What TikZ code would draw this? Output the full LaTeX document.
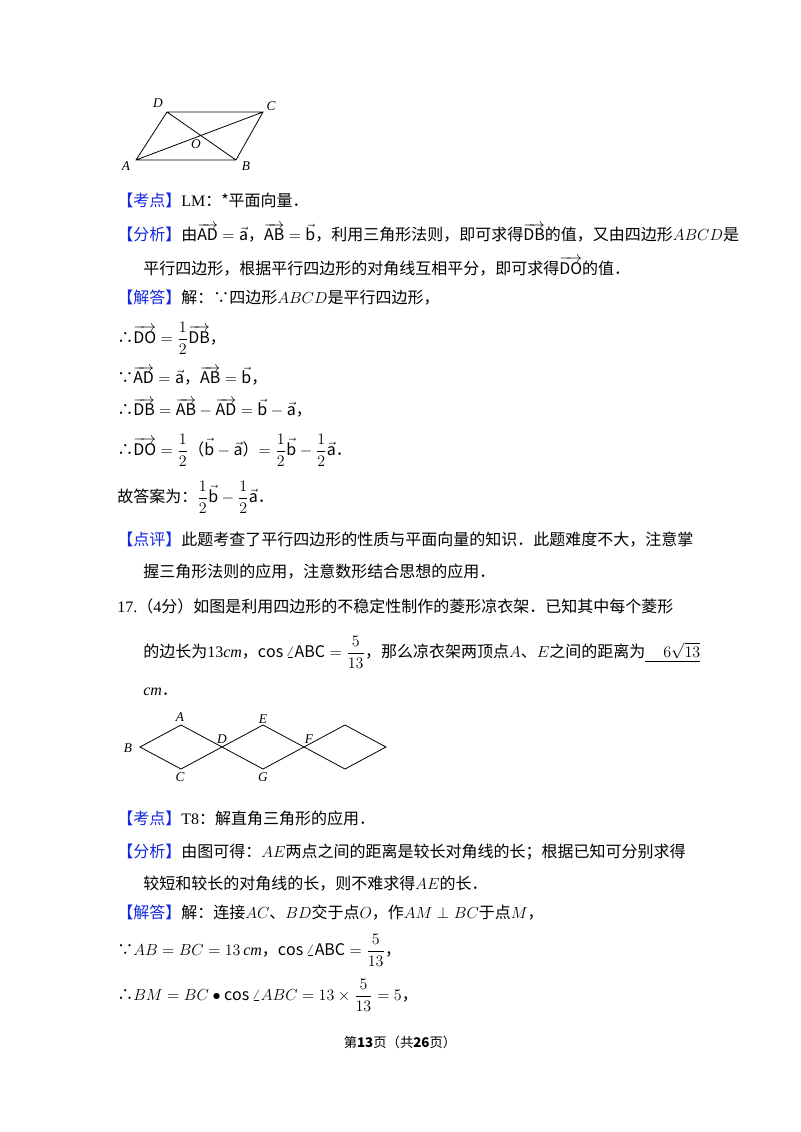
\documentclass[tikz,border=0pt]{standalone}
\usepackage{fontspec}
\setmainfont{Noto Sans CJK SC}
\newfontfamily\lat{Liberation Serif}
\usepackage{amsmath}
\definecolor{kb}{RGB}{20,40,220}
\newcommand{\vc}[1]{\overrightarrow{\mathrm{#1}}}
\newcommand{\tg}[1]{{\color{kb}【#1】}}
\begin{document}
\begin{tikzpicture}[x=0.75pt,y=-0.75pt,
  tx/.style={anchor=west,inner sep=0pt,font=\fontsize{12}{14}\selectfont},
  lb/.style={inner sep=0pt,font=\fontsize{10}{12}\selectfont\lat\itshape},
  ln/.style={line width=0.6pt}]
\useasboundingbox[fill=white] (0,0) rectangle (800,1132);
% figure 1
\coordinate (A) at (136,160); \coordinate (B) at (236,160);
\coordinate (C) at (263,112); \coordinate (D) at (167,112);
\draw[ln] (A)--(B)--(C)--(D)--cycle (A)--(C) (B)--(D);
\node[lb] (la) at (126,166) {A}; \node[lb] (lb1) at (246,166) {B};
\node[lb] (lc) at (271,106) {C}; \node[lb] (ld) at (158,103) {D};
\node[lb] (lo) at (196,144) {O};
% text block 1
\node[tx] (t1) at (117,200) {\tg{考点}{\lat LM}：*平面向量．};
\node[tx] (t2) at (117,233) {\tg{分析}由$\vc{AD}=\vec{\mathrm a}$，$\vc{AB}=\vec{\mathrm b}$，利用三角形法则，即可求得$\vc{DB}$的值，又由四边形$ABCD$是};
\node[tx] (t3) at (143,266) {平行四边形，根据平行四边形的对角线互相平分，即可求得$\vc{DO}$的值．};
\node[tx] (t4) at (117,298) {\tg{解答}解：∵四边形$ABCD$是平行四边形，};
\node[tx] (t5) at (117,338) {∴$\vc{DO}=\dfrac12\vc{DB}$，};
\node[tx] (t6) at (117,376) {∵$\vc{AD}=\vec{\mathrm a}$，$\vc{AB}=\vec{\mathrm b}$，};
\node[tx] (t7) at (117,408) {∴$\vc{DB}=\vc{AB}-\vc{AD}=\vec{\mathrm b}-\vec{\mathrm a}$，};
\node[tx] (t8) at (117,450) {∴$\vc{DO}=\dfrac12$（$\vec{\mathrm b}-\vec{\mathrm a}$）$=\dfrac12\vec{\mathrm b}-\dfrac12\vec{\mathrm a}$．};
\node[tx] (t9) at (117,497) {故答案为：$\dfrac12\vec{\mathrm b}-\dfrac12\vec{\mathrm a}$．};
\node[tx] (t10) at (117,540) {\tg{点评}此题考查了平行四边形的性质与平面向量的知识．此题难度不大，注意掌};
\node[tx] (t11) at (143,572) {握三角形法则的应用，注意数形结合思想的应用．};
\node[tx] (t12) at (117,606) {{\lat 17.}（{\lat 4}分）如图是利用四边形的不稳定性制作的菱形凉衣架．已知其中每个菱形};
\node[tx] (t13) at (143,652) {的边长为{\lat 13\textit{cm}}，$\cos\angle\mathrm{ABC}=\dfrac{5}{13}$，那么凉衣架两顶点$A$、$E$之间的距离为\underline{\ \ \ \ \ $6\sqrt{13}$}};
\node[tx] (t14) at (143,692) {{\lat\itshape cm}．};
% figure 2
\foreach \i/\cx in {1/181,2/263,3/345}{
  \draw[ln] (\cx-41,747)--(\cx,725)--(\cx+41,747)--(\cx,769)--cycle;}
\node[lb] (pB) at (128,748) {B}; \node[lb] (pA) at (180,717) {A};
\node[lb] (pC) at (180,777) {C}; \node[lb] (pD) at (222,739) {D};
\node[lb] (pE) at (263,719) {E}; \node[lb] (pF) at (309,739) {F};
\node[lb] (pG) at (263,777) {G};
\node[tx] (u1) at (117,818) {\tg{考点}{\lat T8}：解直角三角形的应用．};
\node[tx] (u2) at (117,852) {\tg{分析}由图可得：$AE$两点之间的距离是较长对角线的长；根据已知可分别求得};
\node[tx] (u3) at (143,884) {较短和较长的对角线的长，则不难求得$AE$的长．};
\node[tx] (u4) at (117,913) {\tg{解答}解：连接$AC$、$BD$交于点$O$，作$AM\perp BC$于点$M$，};
\node[tx] (u5) at (117,950) {∵$AB=BC=13$\,{\lat\itshape cm}，$\cos\angle\mathrm{ABC}=\dfrac{5}{13}$，};
\node[tx] (u6) at (117,995) {∴$BM=BC\bullet\cos\angle ABC=13\times\dfrac{5}{13}=5$，};
\node[inner sep=0pt,font=\fontsize{10}{12}\selectfont] (ft) at (400,1042) {第\textbf{13}页（共\textbf{26}页）};
\end{tikzpicture}
\end{document}
